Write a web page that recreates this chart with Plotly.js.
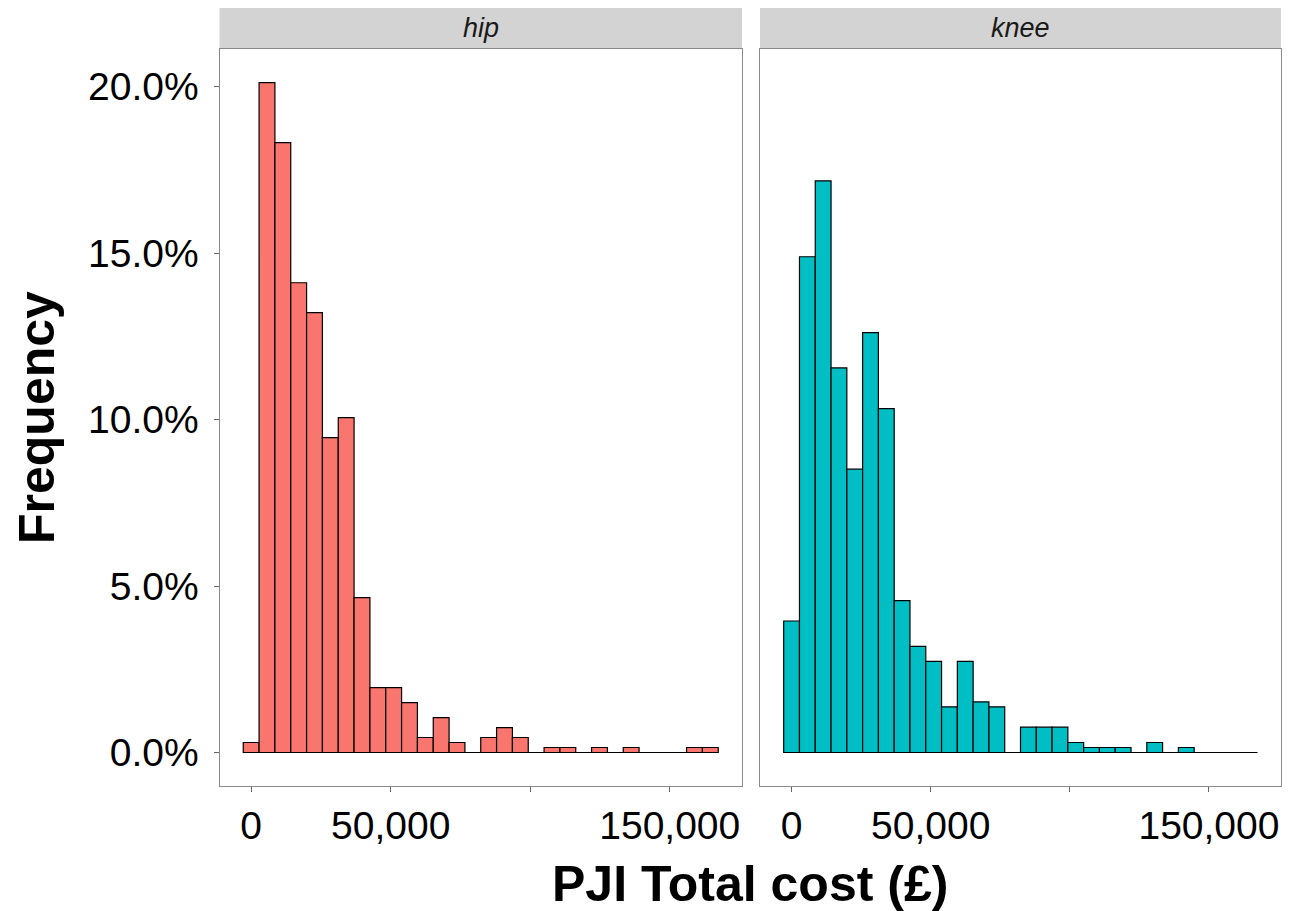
<!DOCTYPE html>
<html>
<head>
<meta charset="utf-8">
<script src="https://cdn.plot.ly/plotly-3.0.1.min.js"></script>
<style>html,body{margin:0;padding:0;background:#fff;}#chart{width:1298px;height:911px;}</style>
</head>
<body>
<div id="chart"></div>
<script>
// Bin centres (PJI total cost, £) shared by both facets
const binCenters = [0, 5674, 11348, 17022, 22696, 28370, 34044, 39718, 45392, 51066,
  56740, 62414, 68088, 73762, 79436, 85110, 90784, 96458, 102132, 107806,
  113480, 119154, 124828, 130502, 136176, 141850, 147524, 153198, 158872, 164546];

// Percent of patients per bin
const hipPct = [0.30, 20.12, 18.32, 14.11, 13.21, 9.46, 10.06, 4.65, 1.95, 1.95,
  1.50, 0.45, 1.05, 0.30, 0, 0.45, 0.75, 0.45, 0, 0.15,
  0.15, 0, 0.15, 0, 0.15, 0, 0, 0, 0.15, 0.15];
const kneePct = [3.95, 14.89, 17.17, 11.55, 8.51, 12.61, 10.33, 4.56, 3.19, 2.74,
  1.37, 2.74, 1.52, 1.37, 0, 0.76, 0.76, 0.76, 0.30, 0.15,
  0.15, 0.15, 0, 0.30, 0, 0.15, 0, 0, 0, 0];

const facetLabels = ['hip', 'knee'];
const yTickVals = [0, 5, 10, 15, 20];
const yTickText = ['0.0%', '5.0%', '10.0%', '15.0%', '20.0%'];
const xTickVals = [0, 50000, 100000, 150000];
const xTickText = ['0', '50,000', '', '150,000'];

const W = 1298, H = 911;
const FONT = 'Liberation Sans, Arial, Helvetica, sans-serif';
const binW = binCenters[1] - binCenters[0];
const edges = [binCenters[0] - binW / 2, binCenters[binCenters.length - 1] + binW / 2];

const panelTop = 49, panelBottom = 786, stripTop = 8;
const dom1 = [219.5 / W, 742 / W];
const dom2 = [760 / W, 1281 / W];
const yDom = [(H - panelBottom) / H, (H - panelTop) / H];

function bars(y, color, xa, ya) {
  return {type: 'bar', x: binCenters, y: y, xaxis: xa, yaxis: ya,
    marker: {color: color, line: {color: '#000', width: 1.2}},
    hoverinfo: 'x+y', showlegend: false};
}
function baseline(xa, ya) {
  return {type: 'scatter', mode: 'lines', x: edges, y: [0, 0], xaxis: xa, yaxis: ya,
    line: {color: '#000', width: 1.2}, hoverinfo: 'skip', showlegend: false};
}

const data = [
  baseline('x', 'y'), bars(hipPct, '#F8766D', 'x', 'y'),
  baseline('x2', 'y2'), bars(kneePct, '#00BFC4', 'x2', 'y2')
];

const xCommon = {
  range: [-11348, 175894], tickmode: 'array', tickvals: xTickVals, ticktext: xTickText,
  ticks: 'outside', ticklen: 5, tickwidth: 1, tickcolor: '#666',
  showline: true, mirror: true, linecolor: '#8a8a8a', linewidth: 1,
  showgrid: false, zeroline: false, fixedrange: true,
  tickfont: {family: FONT, size: 39, color: '#000'}, ticklabelstandoff: 0
};
const yCommon = {
  range: [-1.006, 21.13], domain: yDom, tickmode: 'array', tickvals: yTickVals, ticktext: yTickText,
  ticks: 'outside', ticklen: 5, tickwidth: 1, tickcolor: '#666',
  showline: true, mirror: true, linecolor: '#8a8a8a', linewidth: 1,
  showgrid: false, zeroline: false, fixedrange: true,
  tickfont: {family: FONT, size: 39, color: '#000'}, ticklabelstandoff: 7
};

const layout = {
  width: W, height: H, margin: {l: 0, r: 0, t: 0, b: 0},
  paper_bgcolor: '#fff', plot_bgcolor: '#fff',
  bargap: 0, showlegend: false,
  xaxis: Object.assign({}, xCommon, {domain: dom1, anchor: 'y'}),
  xaxis2: Object.assign({}, xCommon, {domain: dom2, anchor: 'y2'}),
  yaxis: Object.assign({}, yCommon, {anchor: 'x'}),
  yaxis2: Object.assign({}, yCommon, {anchor: 'x2', matches: 'y', showticklabels: false, ticks: ''}),
  shapes: [dom1, dom2].map(d => ({
    type: 'rect', xref: 'paper', yref: 'paper',
    x0: d[0], x1: d[1], y0: (H - panelTop) / H, y1: (H - stripTop) / H,
    fillcolor: '#D3D3D3', line: {width: 0}, layer: 'below'
  })),
  annotations: [
    ...[dom1, dom2].map((d, i) => ({
      text: facetLabels[i], xref: 'paper', yref: 'paper',
      x: (d[0] + d[1]) / 2, y: (H - (panelTop + stripTop) / 2) / H,
      xanchor: 'center', yanchor: 'middle', showarrow: false,
      font: {family: FONT, size: 27, color: '#1A1A1A', style: 'italic'}
    })),
    {text: '<b>PJI Total cost (£)</b>', xref: 'paper', yref: 'paper',
      x: 750.5 / W, y: (H - 884) / H, xanchor: 'center', yanchor: 'middle',
      showarrow: false, font: {family: FONT, size: 50, color: '#000'}},
    {text: '<b>Frequency</b>', xref: 'paper', yref: 'paper',
      x: 37 / W, y: (H - 418) / H, xanchor: 'center', yanchor: 'middle',
      textangle: -90, showarrow: false, font: {family: FONT, size: 50, color: '#000'}}
  ]
};

Plotly.newPlot('chart', data, layout, {displayModeBar: false, staticPlot: true});
</script>
</body>
</html>
